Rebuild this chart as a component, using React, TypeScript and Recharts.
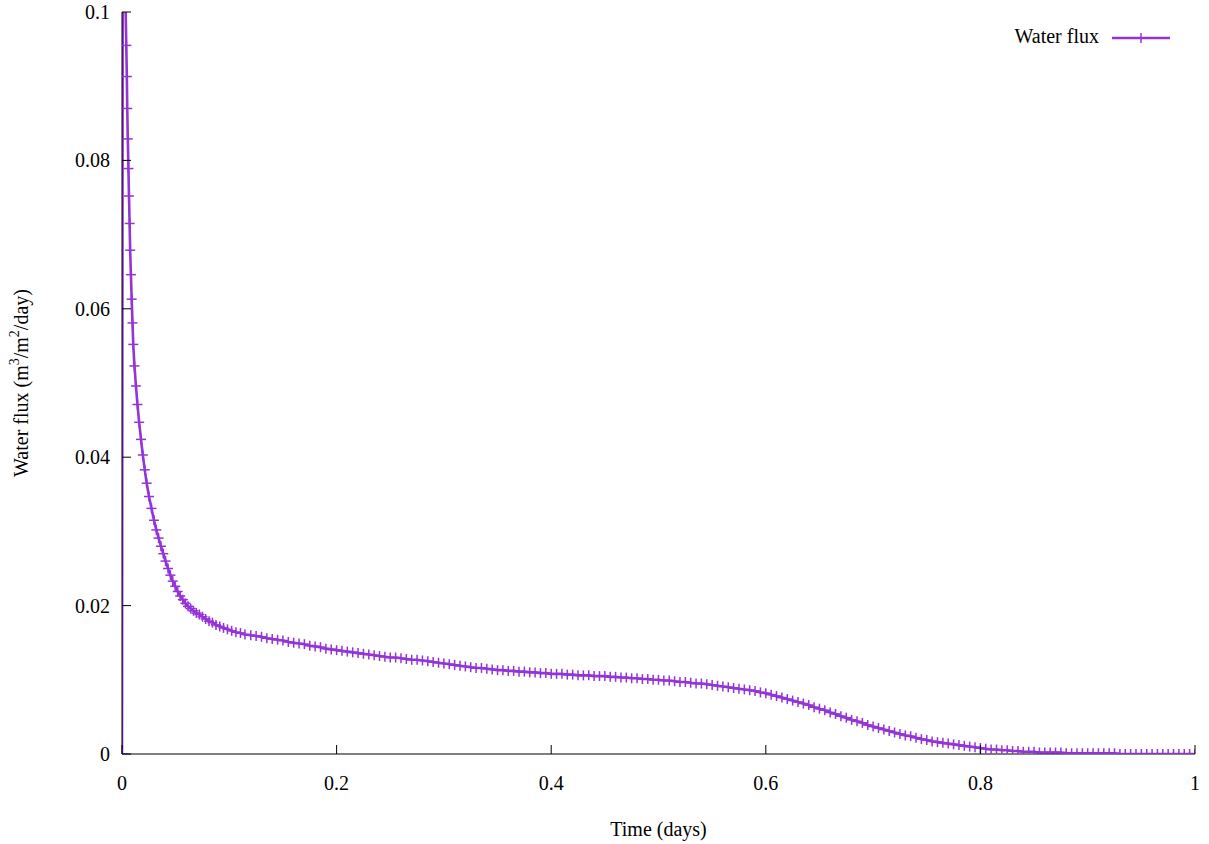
import { LineChart, Line, XAxis, YAxis, Label } from "recharts";

// adaptive early time steps (days) and the flux read at each marker
const TIME_EARLY = [
  0, 0.001, 0.002, 0.003,
  0.004, 0.0045, 0.0049, 0.0054, 0.006, 0.0065, 0.0071, 0.0076, 0.0083, 0.009,
  0.0098, 0.0105, 0.0116, 0.013, 0.0144, 0.016, 0.0177, 0.0194, 0.0212, 0.023,
  0.0252, 0.0275, 0.0298, 0.032, 0.0341, 0.0363, 0.0385, 0.0406, 0.0429, 0.0451,
  0.0473, 0.0496, 0.0519, 0.0542, 0.0567, 0.0591, 0.0615, 0.064, 0.0666, 0.0693,
  0.0721, 0.075, 0.078, 0.0811, 0.0843, 0.0876, 0.0911, 0.0946, 0.0983, 0.1022,
  0.1062, 0.1104, 0.1146,
];
const FLUX_EARLY = [
  0, 0.16, 0.125, 0.103,
  0.0955, 0.0913, 0.087, 0.0829, 0.0789, 0.0752, 0.0715, 0.0679, 0.0646, 0.0613,
  0.0581, 0.0552, 0.0523, 0.0496, 0.0471, 0.0447, 0.0424, 0.0403, 0.0383, 0.0365,
  0.0347, 0.0331, 0.0315, 0.0302, 0.0291, 0.028, 0.027, 0.026, 0.025, 0.0241,
  0.0233, 0.0226, 0.0219, 0.0213, 0.0208, 0.0203, 0.0199, 0.0196, 0.0193, 0.019,
  0.0188, 0.0185, 0.0182, 0.0179, 0.0177, 0.0174, 0.0172, 0.017, 0.0168, 0.0166,
  0.0164, 0.0163, 0.0161,
];

// later, regular steps
const TIME_LATE = [
  0.12, 0.125, 0.13, 0.135, 0.14, 0.145, 0.15, 0.155, 0.16, 0.165,
  0.17, 0.175, 0.18, 0.185, 0.19, 0.195, 0.2, 0.205, 0.21, 0.215,
  0.22, 0.225, 0.23, 0.235, 0.24, 0.245, 0.25, 0.255, 0.26, 0.265,
  0.27, 0.275, 0.28, 0.285, 0.29, 0.295, 0.3, 0.305, 0.31, 0.315,
  0.32, 0.325, 0.33, 0.335, 0.34, 0.345, 0.35, 0.355, 0.36, 0.365,
  0.37, 0.375, 0.38, 0.385, 0.39, 0.395, 0.4, 0.405, 0.41, 0.415,
  0.42, 0.425, 0.43, 0.435, 0.44, 0.445, 0.45, 0.455, 0.46, 0.465,
  0.47, 0.475, 0.48, 0.485, 0.49, 0.495, 0.5, 0.505, 0.51, 0.515,
  0.52, 0.525, 0.53, 0.535, 0.54, 0.545, 0.55, 0.555, 0.56, 0.565,
  0.57, 0.575, 0.58, 0.585, 0.59, 0.595, 0.6, 0.605, 0.61, 0.615,
  0.62, 0.625, 0.63, 0.635, 0.64, 0.645, 0.65, 0.655, 0.66, 0.665,
  0.67, 0.675, 0.68, 0.685, 0.69, 0.695, 0.7, 0.705, 0.71, 0.715,
  0.72, 0.725, 0.73, 0.735, 0.74, 0.745, 0.75, 0.755, 0.76, 0.765,
  0.77, 0.775, 0.78, 0.785, 0.79, 0.795, 0.8, 0.805, 0.81, 0.815,
  0.82, 0.825, 0.83, 0.835, 0.84, 0.845, 0.85, 0.855, 0.86, 0.865,
  0.87, 0.875, 0.88, 0.885, 0.89, 0.895, 0.9, 0.905, 0.91, 0.915,
  0.92, 0.925, 0.93, 0.935, 0.94, 0.945, 0.95, 0.955, 0.96, 0.965,
  0.97, 0.975, 0.98, 0.985, 0.99, 0.995, 1.0,
];
const FLUX_LATE = [
  0.016, 0.0159, 0.0158, 0.0156, 0.0155, 0.0154, 0.0153, 0.0151, 0.015, 0.0149,
  0.0148, 0.0146, 0.0145, 0.0144, 0.0142, 0.0141, 0.014, 0.0139, 0.0138, 0.0137,
  0.0136, 0.0135, 0.0134, 0.0133, 0.0132, 0.0131, 0.013, 0.013, 0.0129, 0.0128,
  0.0127, 0.0127, 0.0126, 0.0125, 0.0124, 0.0123, 0.0122, 0.0121, 0.012, 0.0119,
  0.0118, 0.0117, 0.0116, 0.0116, 0.0115, 0.0114, 0.0113, 0.0113, 0.0112, 0.0112,
  0.0111, 0.0111, 0.011, 0.011, 0.0109, 0.0109, 0.0108, 0.0108, 0.0108, 0.0107,
  0.0107, 0.0106, 0.0106, 0.0106, 0.0105, 0.0105, 0.0105, 0.0104, 0.0104, 0.0103,
  0.0103, 0.0102, 0.0102, 0.0101, 0.0101, 0.01, 0.01, 0.0099, 0.0099, 0.0098,
  0.0097, 0.0097, 0.0096, 0.0095, 0.0095, 0.0094, 0.0093, 0.0092, 0.0091, 0.009,
  0.0089, 0.0088, 0.0087, 0.0086, 0.0085, 0.0083, 0.0082, 0.008, 0.0078, 0.0076,
  0.0074, 0.0072, 0.007, 0.0068, 0.0066, 0.0063, 0.0061, 0.0059, 0.0056, 0.0054,
  0.0051, 0.0049, 0.0046, 0.0044, 0.0042, 0.0039, 0.0037, 0.0035, 0.0033, 0.0031,
  0.0029, 0.0027, 0.0025, 0.0024, 0.0022, 0.002, 0.0019, 0.0017, 0.0016, 0.0015,
  0.0014, 0.0013, 0.0012, 0.0011, 0.001, 0.0009, 0.0008, 0.0007, 0.0006, 0.0006,
  0.0005, 0.0005, 0.0004, 0.0004, 0.0003, 0.0003, 0.0003, 0.0002, 0.0002, 0.0002,
  0.0002, 0.0002, 0.0001, 0.0001, 0.0001, 0.0001, 0.0001, 0.0001, 0.0001, 0.0001,
  0.0001, 0.0001, 0, 0, 0, 0, 0, 0, 0, 0,
  0, 0, 0, 0, 0, 0, 0,
];

const X_TICKS = [0, 0.2, 0.4, 0.6, 0.8, 1];
const Y_TICKS = [0, 0.02, 0.04, 0.06, 0.08, 0.1];

const TIMES = [...TIME_EARLY, ...TIME_LATE];
const FLUXES = [...FLUX_EARLY, ...FLUX_LATE];
const data = TIMES.map((t, i) => ({ t, flux: FLUXES[i] }));

const PURPLE = "#9434d8";
const FONT = "'Liberation Serif', 'Times New Roman', serif";
const TICK_LEN = 9;

function Cross(props: any) {
  const { cx, cy, index } = props;
  if (cx == null || cy == null) return null;
  return (
    <g key={`pt-${index}`}>
      <line x1={cx - 5} x2={cx + 5} y1={cy} y2={cy} stroke={PURPLE} strokeWidth={1.5} />
      <line x1={cx} x2={cx} y1={cy - 5} y2={cy + 5} stroke={PURPLE} strokeWidth={1.5} />
    </g>
  );
}

const BottomTick = ({ x, y, payload }: any) => (
  <g>
    <line x1={x} x2={x} y1={y} y2={y - TICK_LEN} stroke="#000" />
    <text x={x} y={y + 29} textAnchor="middle" dominantBaseline="central"
      fontFamily={FONT} fontSize={20} fill="#000">
      {String(payload.value)}
    </text>
  </g>
);

const LeftTick = ({ x, y, payload }: any) => (
  <g>
    <line x1={x} x2={x + TICK_LEN} y1={y} y2={y} stroke="#000" />
    <text x={x - 12} y={y} textAnchor="end" dominantBaseline="central"
      fontFamily={FONT} fontSize={20} fill="#000">
      {String(payload.value)}
    </text>
  </g>
);

const TopTick = ({ x, y }: any) => (
  <line x1={x} x2={x} y1={y} y2={y + TICK_LEN} stroke="#000" />
);

const RightTick = ({ x, y }: any) => (
  <line x1={x} x2={x - TICK_LEN} y1={y} y2={y} stroke="#000" />
);

const XTitle = ({ viewBox }: any) => (
  <text x={viewBox.x + viewBox.width / 2} y={829} textAnchor="middle"
    dominantBaseline="central" fontFamily={FONT} fontSize={20} fill="#000">
    Time (days)
  </text>
);

const YTitle = ({ viewBox }: any) => {
  const cx = 21;
  const cy = viewBox.y + viewBox.height / 2;
  return (
    <text x={cx} y={cy} transform={`rotate(-90, ${cx}, ${cy})`} textAnchor="middle"
      dominantBaseline="central" fontFamily={FONT} fontSize={20} fill="#000">
      Water flux (m<tspan dy={-7} fontSize={14}>3</tspan>
      <tspan dy={7}>/m</tspan>
      <tspan dy={-7} fontSize={14}>2</tspan>
      <tspan dy={7}>/day)</tspan>
    </text>
  );
};

export default function App() {
  return (
    <div style={{ position: "absolute", left: 0, top: 0, width: 1209, height: 844, background: "#fff" }}>
      <LineChart width={1209} height={844} data={data}
        margin={{ top: 12, right: 14, bottom: 0, left: 0 }}>
        <XAxis xAxisId="bottom" dataKey="t" type="number" domain={[0, 1]} ticks={X_TICKS}
          interval={0} allowDataOverflow height={90} tickSize={0} tickMargin={0}
          tickLine={false} tick={<BottomTick />} axisLine={{ stroke: "#000" }}>
          <Label content={<XTitle />} />
        </XAxis>
        <XAxis xAxisId="top" orientation="top" dataKey="t" type="number" domain={[0, 1]}
          ticks={X_TICKS} interval={0} allowDataOverflow height={0} tickSize={0} tickMargin={0}
          tickLine={false} tick={<TopTick />} axisLine={{ stroke: "#000" }} />
        <YAxis yAxisId="left" type="number" domain={[0, 0.1]} ticks={Y_TICKS} interval={0}
          allowDataOverflow width={122} tickSize={0} tickMargin={0} tickLine={false}
          tick={<LeftTick />} axisLine={{ stroke: "#000" }}>
          <Label content={<YTitle />} />
        </YAxis>
        <YAxis yAxisId="right" orientation="right" type="number" domain={[0, 0.1]}
          ticks={Y_TICKS} interval={0} allowDataOverflow width={0} tickSize={0} tickMargin={0}
          tickLine={false} tick={<RightTick />} axisLine={{ stroke: "#000" }} />
        <Line xAxisId="bottom" yAxisId="left" type="linear" dataKey="flux" stroke={PURPLE}
          strokeWidth={2.6} dot={Cross} activeDot={false} isAnimationActive={false} />
      </LineChart>
      <svg width={1209} height={844} style={{ position: "absolute", left: 0, top: 0, pointerEvents: "none" }}>
        <text x={1099} y={43} textAnchor="end" fontFamily={FONT} fontSize={20} fill="#000">
          Water flux
        </text>
        <line x1={1112} x2={1170} y1={38} y2={38} stroke={PURPLE} strokeWidth={2.6} />
        <line x1={1141} x2={1141} y1={33} y2={43} stroke={PURPLE} strokeWidth={1.5} />
      </svg>
    </div>
  );
}
